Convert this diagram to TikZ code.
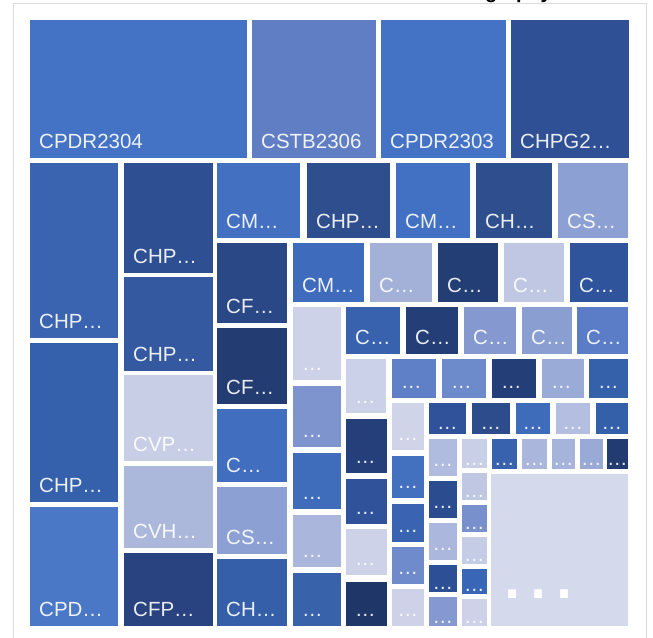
\documentclass[tikz,border=0pt]{standalone}
\usepackage{fontspec}
\setmainfont{Liberation Sans}
\newcounter{tmc}
\tikzset{
  lbl/.style={anchor=base west, inner sep=0pt, text=white, text opacity=0.9,
    font=\fontsize{20.5}{24}\selectfont},
  bigdots/.style={anchor=base west, inner sep=0pt, text=white,
    font=\fontsize{82}{90}\selectfont},
  framebox/.style={draw=black!14, line width=1pt},
  titletext/.style={anchor=base west, inner sep=0pt, font=\bfseries\fontsize{20}{24}\selectfont}
}
\newcommand\tmtile[6]{%
  \stepcounter{tmc}%
  \definecolor{tmcol}{HTML}{#5}%
  \fill[tmcol] (#1,#2) rectangle (#3,#4);
  \pgfmathsetmacro\tmlx{#1+min(9,max(0,(#3-#1-21)/2))}%
  \pgfmathsetmacro\tmly{#4-min(10,max(3,#4-#2-26))}%
  \node[lbl] (L\arabic{tmc}) at (\tmlx,\tmly) {#6};%
}
\begin{document}
\begin{tikzpicture}[x=1pt,y=-1pt]
\useasboundingbox (0,0) rectangle (653,637);
\fill[white] (0,0) rectangle (653,637);
\begin{scope}
\clip (0,0) rectangle (653,637);
\node[titletext] (title) at (446,-1.5) {Geography};
\draw[framebox] (13,3) rectangle (646,660);
\end{scope}
% top row
\tmtile{30}{20}{247}{158}{4472C4}{CPDR2304}
\tmtile{252}{20}{376}{158}{5F7EC4}{CSTB2306}
\tmtile{381}{20}{506}{158}{4472C4}{CPDR2303}
\tmtile{511}{20}{629}{158}{2F5094}{CHPG2…}
% column 1
\tmtile{30}{163}{118}{338}{3A63B0}{CHP…}
\tmtile{30}{343}{118}{502}{3560AB}{CHP…}
\tmtile{30}{507}{118}{626}{4B77C7}{CPD…}
% column 2
\tmtile{124}{163}{213}{273}{2E4F91}{CHP…}
\tmtile{124}{277}{213}{371}{3459A1}{CHP…}
\tmtile{124}{375}{213}{461}{C8CEE6}{CVP…}
\tmtile{124}{466}{213}{548}{ABB8DC}{CVH…}
\tmtile{124}{553}{213}{626}{28437F}{CFP…}
% column 3
\tmtile{217}{163}{300}{238}{4370C1}{CM…}
\tmtile{217}{243}{287}{323}{2A4786}{CF…}
\tmtile{217}{328}{287}{404}{233D73}{CF…}
\tmtile{217}{409}{287}{482}{426EBF}{C…}
\tmtile{217}{487}{287}{554}{8CA0D3}{CS…}
\tmtile{217}{559}{287}{626}{3560A9}{CH…}
% right region, row 1
\tmtile{307}{163}{390}{238}{2E4E8E}{CHP…}
\tmtile{396}{163}{470}{238}{4270C2}{CM…}
\tmtile{476}{163}{552}{238}{2E4E8E}{CH…}
\tmtile{558}{163}{628}{238}{8DA0D4}{CS…}
% row 2
\tmtile{293}{243}{364}{302}{3F6BBD}{CM…}
\tmtile{370}{243}{432}{302}{A3B1D9}{C…}
\tmtile{438}{243}{498}{302}{233D75}{C…}
\tmtile{504}{243}{564}{302}{BFC7E3}{C…}
\tmtile{570}{243}{628}{302}{2F549C}{C…}
% row 3
\tmtile{293}{307}{341}{380}{CDD2E8}{…}
\tmtile{346}{307}{400}{354}{3862AE}{C…}
\tmtile{406}{307}{458}{354}{243F78}{C…}
\tmtile{464}{307}{516}{354}{8598D0}{C…}
\tmtile{522}{307}{572}{354}{8B9ED2}{C…}
\tmtile{577}{307}{628}{354}{5B7CC6}{C…}
% row 4
\tmtile{346}{359}{386}{413}{CBD1E8}{…}
\tmtile{392}{359}{436}{398}{5F7FC6}{…}
\tmtile{442}{359}{486}{398}{6D8ACB}{…}
\tmtile{492}{359}{536}{398}{243E78}{…}
\tmtile{542}{359}{584}{398}{9AABD8}{…}
\tmtile{589}{359}{628}{398}{3560AA}{…}
% column x 293
\tmtile{293}{386}{341}{447}{7E94CE}{…}
\tmtile{293}{453}{341}{509}{406CBC}{…}
\tmtile{293}{515}{341}{567}{AAB6DB}{…}
\tmtile{293}{573}{341}{626}{3862AA}{…}
% column x 346
\tmtile{346}{419}{387}{473}{243F7A}{…}
\tmtile{346}{479}{387}{524}{2F529A}{…}
\tmtile{346}{529}{387}{575}{CDD2E8}{…}
\tmtile{346}{582}{387}{626}{1F3768}{…}
% column x 392
\tmtile{392}{403}{424}{450}{CFD4E8}{…}
\tmtile{392}{456}{424}{498}{4470C0}{…}
\tmtile{392}{504}{424}{542}{3A64B2}{…}
\tmtile{392}{547}{424}{584}{6F8BCB}{…}
\tmtile{392}{589}{424}{626}{CDD2E8}{…}
% row of five
\tmtile{429}{403}{466}{434}{2F529A}{…}
\tmtile{472}{403}{510}{434}{2C4C8C}{…}
\tmtile{516}{403}{550}{434}{3F6BBB}{…}
\tmtile{556}{403}{590}{434}{B3BEE0}{…}
\tmtile{596}{403}{628}{434}{3360A8}{…}
% row of small tiles
\tmtile{429}{439}{457}{476}{B0BCDF}{…}
\tmtile{462}{439}{487}{468}{C9CFE7}{…}
\tmtile{492}{439}{517}{469}{3862AE}{…}
\tmtile{522}{439}{547}{469}{AAB6DB}{…}
\tmtile{552}{439}{575}{469}{A6B3DA}{…}
\tmtile{580}{439}{603}{469}{9AAAD6}{…}
\tmtile{607}{439}{628}{469}{223C72}{…}
% column x 429
\tmtile{429}{481}{457}{518}{2C4C90}{…}
\tmtile{429}{523}{457}{560}{ABB7DC}{…}
\tmtile{429}{565}{457}{592}{2D4F95}{…}
\tmtile{429}{597}{457}{626}{8598D0}{…}
% column x 462
\tmtile{462}{473}{487}{500}{BFC7E3}{…}
\tmtile{462}{505}{487}{532}{7890CC}{…}
\tmtile{462}{537}{487}{564}{C5CCE6}{…}
\tmtile{462}{569}{487}{594}{3A66B8}{…}
\tmtile{462}{599}{487}{626}{CDD2E8}{…}
% big tile
\definecolor{bigcol}{HTML}{D5D9EC}
\fill[bigcol] (491,474) rectangle (628,626);
\node[bigdots] (bigl) at (497.5,598) {…};
\end{tikzpicture}
\end{document}
